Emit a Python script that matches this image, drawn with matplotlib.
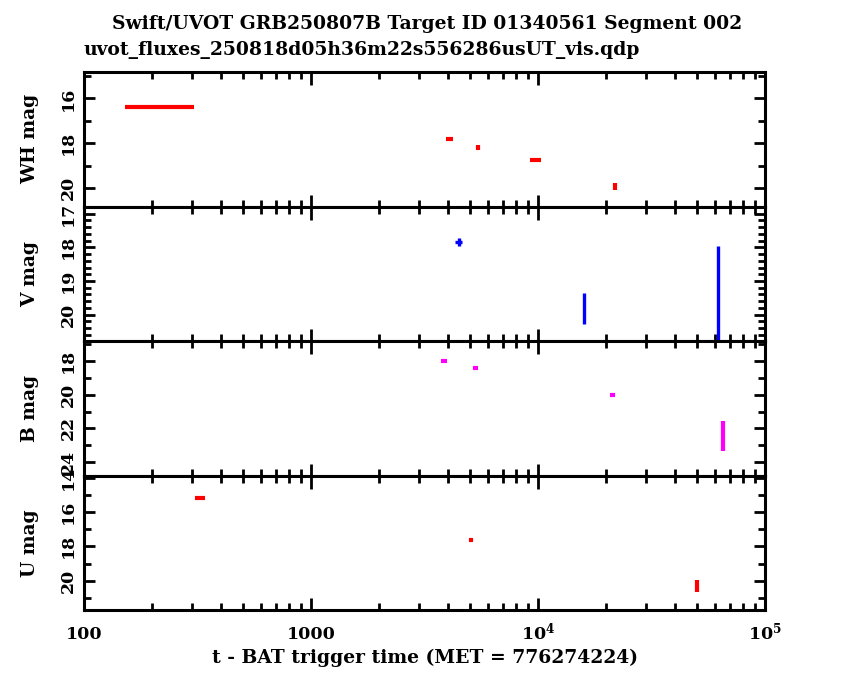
import matplotlib
matplotlib.use("Agg")
import matplotlib.pyplot as plt
from matplotlib.ticker import MultipleLocator, NullFormatter, FuncFormatter
import numpy as np

plt.rcParams['font.family'] = ['DejaVu Serif']
plt.rcParams['font.weight'] = 'bold'
plt.rcParams['axes.labelweight'] = 'bold'
plt.rcParams['mathtext.fontset'] = 'dejavuserif'
plt.rcParams['mathtext.default'] = 'bf'

title1 = "Swift/UVOT GRB250807B Target ID 01340561 Segment 002"
title2 = "uvot_fluxes_250818d05h36m22s556286usUT_vis.qdp"
xlabel = "t - BAT trigger time (MET = 776274224)"

# WH filter
wh_t = [229, 4065, 5446, 9765, 21930]
wh_terr = [77, 150, 75, 565, 110]
wh_mag = [16.37, 17.81, 18.19, 18.74, 19.93]
wh_lo = [0.02, 0.07, 0.10, 0.0, 0.15]
wh_hi = [0.02, 0.07, 0.10, 0.07, 0.15]

# V filter
v_t = [4477, 15960, 61800]
v_terr = [150, 60, 60]
v_mag = [17.85, 19.74, 20.5]
v_lo = [0.12, 0.39, 2.55]
v_hi = [0.12, 0.54, 2.55]

# B filter
b_t = [3855, 5295, 21330, 65630]
b_terr = [110, 140, 600, 120]
b_mag = [18.02, 18.41, 20.04, 22.2]
b_lo = [0.08, 0.12, 0.12, 0.61]
b_hi = [0.08, 0.12, 0.12, 1.15]

# U filter
u_t = [325, 5080, 50350]
u_terr = [17, 90, 250]
u_mag = [15.15, 17.61, 20.30]
u_lo = [0.06, 0.08, 0.35]
u_hi = [0.06, 0.08, 0.35]

panels = [
    ("WH mag", wh_t, wh_terr, wh_mag, wh_lo, wh_hi, "#ff0000", (20.81, 14.82), 2, 1, 3),
    ("V mag", v_t, v_terr, v_mag, v_lo, v_hi, "#0000ff", (20.78, 16.79), 1, 0.2, 2.4),
    ("B mag", b_t, b_terr, b_mag, b_lo, b_hi, "#ff00ff", (24.81, 16.80), 2, 1, 3),
    ("U mag", u_t, u_terr, u_mag, u_lo, u_hi, "#ff0000", (21.71, 13.86), 2, 1, 3),
]

fig = plt.figure(figsize=(8.5, 6.8), dpi=100)
left, right = 84 / 850, 765 / 850
top_px, bot_px = 72, 610
h_px = (bot_px - top_px) / 4

def xfmt(v, pos):
    if abs(v - 100) < 1:
        return "100"
    if abs(v - 1000) < 1:
        return "1000"
    return r"$10^{%d}$" % int(round(np.log10(v)))

for i, (lab, t, te, m, lo, hi, col, ylim, major, minor, lw) in enumerate(panels):
    y0 = 1 - (top_px + (i + 1) * h_px) / 680
    ax = fig.add_axes([left, y0, right - left, h_px / 680])
    ax.errorbar(t, m, xerr=te, yerr=[lo, hi], fmt='none', ecolor=col,
                elinewidth=lw, capsize=0)
    ax.set_xscale('log')
    ax.set_xlim(100, 1e5)
    ax.set_ylim(*ylim)
    ax.yaxis.set_major_locator(MultipleLocator(major))
    ax.yaxis.set_minor_locator(MultipleLocator(minor))
    ax.tick_params(which='both', direction='in', top=True, right=True,
                   width=2, labelsize=12.5)
    ax.tick_params(which='major', length=9)
    ax.tick_params(which='minor', length=5)
    ax.tick_params(axis='x', which='major', pad=21)
    ax.tick_params(axis='y', which='major', length=8, pad=5)
    for lbl in ax.get_yticklabels():
        lbl.set_rotation(90)
        lbl.set_va('center')
    ax.set_ylabel(lab, fontsize=13.5)
    ax.yaxis.set_label_coords(-0.066, 0.5)
    for s in ax.spines.values():
        s.set_linewidth(2.2)
    if i < 3:
        ax.xaxis.set_major_formatter(NullFormatter())
    else:
        ax.xaxis.set_major_formatter(FuncFormatter(xfmt))
        for lbl in ax.get_xticklabels():
            lbl.set_va('baseline')
        ax.set_xlabel(xlabel, fontsize=13.5)
        ax.xaxis.set_label_coords(0.5, -0.29)
    ax.xaxis.set_minor_formatter(NullFormatter())

fig.text(0.503, 1 - 24 / 680, title1, ha='center', va='center', fontsize=13.5)
fig.text(left, 1 - 50 / 680, title2, ha='left', va='center', fontsize=13.5)

fig.savefig("out.png", dpi=100)
